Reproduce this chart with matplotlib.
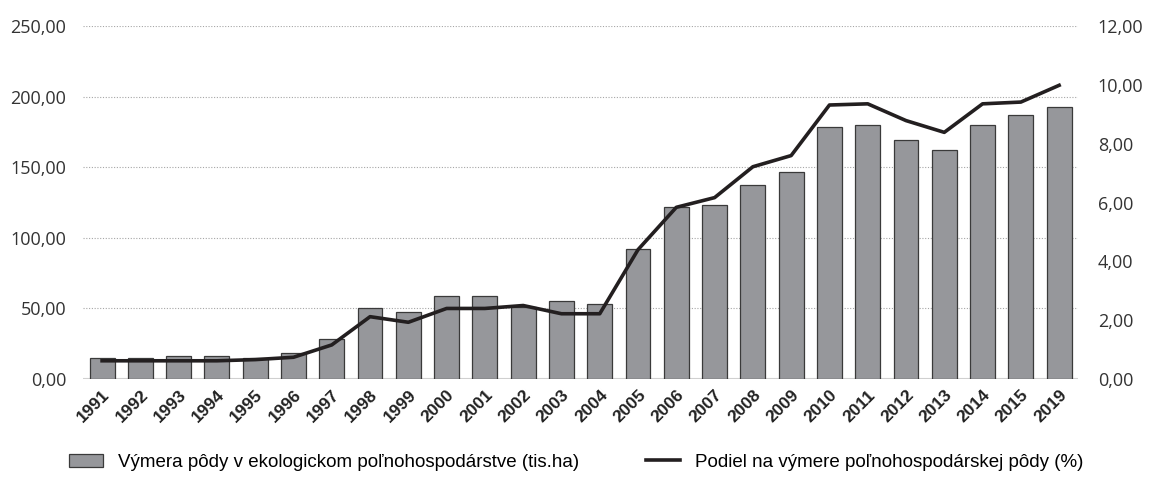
import matplotlib.pyplot as plt
import numpy as np
from matplotlib.ticker import FuncFormatter

# data
years = ["1991", "1992", "1993", "1994", "1995", "1996", "1997", "1998", "1999",
         "2000", "2001", "2002", "2003", "2004", "2005", "2006", "2007", "2008",
         "2009", "2010", "2011", "2012", "2013", "2014", "2015", "2019"]
area = [15.0, 15.0, 16.3, 16.3, 15.0, 18.4, 28.3, 50.3, 47.4,
        58.8, 58.8, 51.0, 55.2, 53.0, 92.0, 121.8, 123.0, 137.4,
        146.6, 178.5, 180.0, 169.3, 162.0, 180.0, 187.3, 193.0]
share = [0.62, 0.62, 0.62, 0.62, 0.66, 0.74, 1.16, 2.12, 1.93,
         2.40, 2.40, 2.50, 2.22, 2.22, 4.40, 5.84, 6.17, 7.22,
         7.60, 9.32, 9.36, 8.79, 8.39, 9.36, 9.42, 9.99]

label_bar = "Výmera pôdy v ekologickom poľnohospodárstve (tis.ha)"
label_line = "Podiel na výmere poľnohospodárskej pôdy (%)"

tick_font = ["Open Sans", "DejaVu Sans"]
legend_font = ["Liberation Sans", "DejaVu Sans"]

fig = plt.figure(figsize=(11.52, 4.9), dpi=100)
ax = fig.add_axes([0.072, 0.2265, 0.864, 0.72])
ax2 = ax.twinx()

x = np.arange(len(years))
bars = ax.bar(x, area, width=0.65, color="#96979b", edgecolor="#3a3a3a",
              linewidth=0.9, zorder=3, label=label_bar)
line, = ax2.plot(x, share, color="#231f20", linewidth=2.6, zorder=4,
                 label=label_line)

ax.set_xlim(-0.5, len(years) - 0.5)
ax.set_ylim(0, 250)
ax2.set_ylim(0, 12)
ax.set_yticks(np.arange(0, 251, 50))
ax2.set_yticks(np.arange(0, 12.1, 2))

comma = FuncFormatter(lambda v, p: f"{v:.2f}".replace(".", ","))
ax.yaxis.set_major_formatter(comma)
ax2.yaxis.set_major_formatter(comma)

for a in (ax, ax2):
    for s in a.spines.values():
        s.set_visible(False)
    a.tick_params(axis="y", length=0, labelsize=13, labelcolor="#333333")
    for t in a.get_yticklabels():
        t.set_family(tick_font)
ax.tick_params(axis="y", pad=12)
ax2.tick_params(axis="y", pad=14)

ax.grid(axis="y", color="#a6a6a6", linestyle=(0, (1, 1.5)), linewidth=0.8, zorder=0)
ax.axhline(0, color="#d0d0d0", linewidth=1.5, zorder=2)

ax.set_xticks(x)
ax.set_xticklabels(years, rotation=45, ha="right", rotation_mode="anchor",
                   fontsize=12.5, fontweight="bold", family=legend_font, color="#222222")
ax.tick_params(axis="x", length=0, pad=6)

fig.legend(handles=[bars, line], labels=[label_bar, label_line], loc="center",
           bbox_to_anchor=(0.5, 0.057), ncol=2, frameon=False, columnspacing=3.6,
           handlelength=1.8, handletextpad=0.8,
           prop={"family": legend_font, "size": 13.5})

fig.savefig("out.png", dpi=100)
